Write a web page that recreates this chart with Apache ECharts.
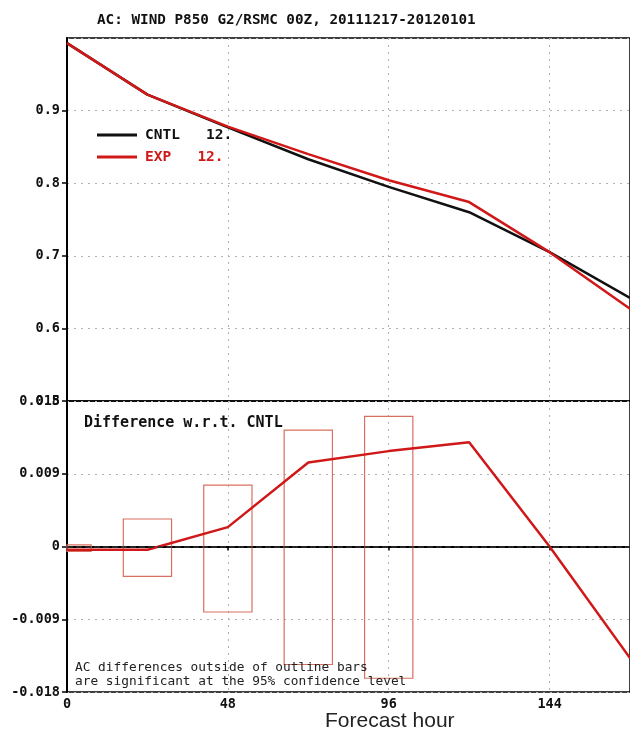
<!DOCTYPE html>
<html>
<head>
<meta charset="utf-8">
<script src="https://cdn.jsdelivr.net/npm/echarts@6/dist/echarts.min.js"></script>
<style>
  html, body { margin: 0; padding: 0; background: #fff; }
  #chart { width: 630px; height: 740px; }
</style>
</head>
<body>
<div id="chart"></div>
<script>
// forecast hours and anomaly correlation
const hours = [0, 24, 48, 72, 96, 120, 144, 168]
const cntl = [0.993, 0.922, 0.877, 0.833, 0.795, 0.760, 0.705, 0.642]
const exp = [0.993, 0.922, 0.878, 0.840, 0.804, 0.774, 0.705, 0.627]
// EXP - CNTL
const diff = [-0.0004, -0.0004, 0.0024, 0.0104, 0.0118, 0.0129, 0.0000, -0.0138]
// significance outline bars
const barHours = [0, 24, 48, 72, 96]
const barLow = [-0.0006, -0.0037, -0.0081, -0.0146, -0.0163]
const barHigh = [0.0002, 0.0034, 0.0076, 0.0144, 0.0161]
const legendScores = ['12.', '12.']
const seriesNames = ['CNTL', 'EXP']

const monoFont = 'DejaVu Sans Mono'
const dotted = { color: '#b0b0b0', width: 1, type: [2, 5] }
const yLabel = { color: '#111', fontFamily: monoFont, fontWeight: 'bold', fontSize: 13.5, margin: 7 }

const option = {
  animation: false,
  title: [
    {
      text: 'AC: WIND P850 G2/RSMC 00Z, 20111217-20120101',
      left: 97, top: 13, padding: 0,
      textStyle: { fontFamily: monoFont, fontWeight: 'bold', fontSize: 14.3, color: '#111' }
    },
    {
      text: 'Difference w.r.t. CNTL',
      left: 84, top: 416, padding: 0,
      textStyle: { fontFamily: monoFont, fontWeight: 'bold', fontSize: 15, color: '#111' }
    },
    {
      text: 'AC differences outside of outline bars\nare significant at the 95% confidence level',
      left: 75, top: 661, padding: 0,
      textStyle: { fontFamily: monoFont, fontWeight: 'normal', fontSize: 12.8, lineHeight: 14, color: '#222' }
    },
    {
      text: 'Forecast hour',
      left: 325, top: 711, padding: 0,
      textStyle: { fontFamily: 'Liberation Sans', fontWeight: 'normal', fontSize: 21, color: '#222' }
    }
  ],
  legend: {
    orient: 'vertical',
    left: 92, top: 122,
    icon: 'rect',
    itemWidth: 40, itemHeight: 3,
    itemGap: 6,
    selectedMode: false,
    data: [
      { name: 'CNTL', textStyle: { color: '#111' } },
      { name: 'EXP', textStyle: { color: '#d01818' } }
    ],
    formatter (name) {
      const i = seriesNames.indexOf(name)
      return name + '   ' + legendScores[i]
    },
    textStyle: { fontFamily: monoFont, fontWeight: 'bold', fontSize: 14.5, lineHeight: 16, padding: [0, 0, 0, 3] }
  },
  grid: [
    { left: 67, top: 38, width: 567, height: 363, show: true, borderColor: '#000', borderWidth: 1.5 },
    { left: 67, top: 401, width: 567, height: 291, show: true, borderColor: '#000', borderWidth: 1.5 }
  ],
  xAxis: [
    {
      gridIndex: 0, type: 'value', min: 0, max: 168, interval: 48,
      axisLine: { show: false }, axisTick: { show: false }, axisLabel: { show: false },
      splitLine: { lineStyle: dotted }
    },
    {
      gridIndex: 1, type: 'value', min: 0, max: 168, interval: 48,
      axisLine: { lineStyle: { color: '#000', width: 2 } },
      axisTick: { length: 4, lineStyle: { color: '#000', width: 1.5 } },
      axisLabel: { color: '#111', fontFamily: monoFont, fontWeight: 'bold', fontSize: 13.5, margin: 5, showMaxLabel: false },
      splitLine: { lineStyle: dotted }
    }
  ],
  yAxis: [
    {
      gridIndex: 0, type: 'value', min: 0.5, max: 1.0, interval: 0.1,
      axisLine: { show: true, lineStyle: { color: '#000', width: 2 } },
      axisTick: { show: true, length: 5, lineStyle: { color: '#000', width: 1.5 } },
      axisLabel: Object.assign({ showMaxLabel: false }, yLabel),
      splitLine: { lineStyle: dotted }
    },
    {
      gridIndex: 1, type: 'value', min: -0.018, max: 0.018, interval: 0.009,
      axisLine: { show: true, onZero: false, lineStyle: { color: '#000', width: 2 } },
      axisTick: { show: true, length: 5, lineStyle: { color: '#000', width: 1.5 } },
      axisLabel: Object.assign({
        formatter (v) {
          return Math.abs(v) < 1e-9 ? '0' : v.toFixed(3)
        }
      }, yLabel),
      splitLine: { lineStyle: dotted }
    }
  ],
  series: [
    {
      name: 'CNTL', type: 'line', xAxisIndex: 0, yAxisIndex: 0,
      data: hours.map((h, i) => [h, cntl[i]]),
      symbol: 'none', color: '#111',
      lineStyle: { width: 2.5, color: '#111' }, z: 3
    },
    {
      name: 'EXP', type: 'line', xAxisIndex: 0, yAxisIndex: 0,
      data: hours.map((h, i) => [h, exp[i]]),
      symbol: 'none', color: '#d01818',
      lineStyle: { width: 2.5, color: '#d01818' }, z: 4
    },
    {
      // outline bars, +-7.2 h wide
      name: 'bars', type: 'custom', xAxisIndex: 1, yAxisIndex: 1,
      data: barHours.map((h, i) => [h, barLow[i], barHigh[i]]),
      renderItem (params, api) {
        const p1 = api.coord([api.value(0) - 7.2, api.value(2)])
        const p2 = api.coord([api.value(0) + 7.2, api.value(1)])
        const x0 = Math.max(p1[0], params.coordSys.x)
        return {
          type: 'rect',
          shape: { x: x0, y: p1[1], width: p2[0] - x0, height: p2[1] - p1[1] },
          style: { fill: 'none', stroke: '#d8705f', lineWidth: 1.2 }
        }
      },
      z: 2
    },
    {
      name: 'diff', type: 'line', xAxisIndex: 1, yAxisIndex: 1,
      data: hours.map((h, i) => [h, diff[i]]),
      symbol: 'none', color: '#d01818',
      lineStyle: { width: 2.5, color: '#d01818' },
      markLine: {
        silent: true, symbol: 'none', label: { show: false },
        lineStyle: { color: '#333', type: [6, 3], width: 1.5 },
        data: [{ yAxis: 0 }]
      },
      z: 4
    }
  ]
}

const myChart = echarts.init(document.getElementById('chart'))
myChart.setOption(option)
</script>
</body>
</html>
